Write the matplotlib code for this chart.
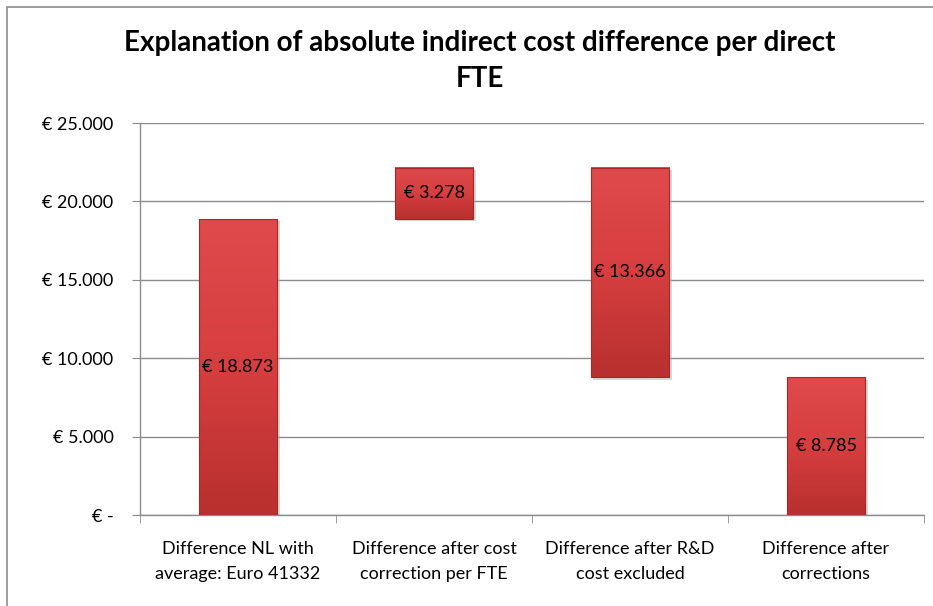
import numpy as np
import matplotlib.pyplot as plt
from matplotlib.patches import Rectangle
from matplotlib.colors import LinearSegmentedColormap

# ---------------------- Data

categories = ['Difference NL with\naverage: Euro 41332',
              'Difference after cost\ncorrection per FTE',
              'Difference after R&D\ncost excluded',
              'Difference after\ncorrections']
bottoms = [0, 18873, 8785, 0]
heights = [18873, 3278, 13366, 8785]
bar_labels = ['€ 18.873', '€ 3.278', '€ 13.366', '€ 8.785']
yticks = [0, 5000, 10000, 15000, 20000, 25000]
ytick_labels = ['€ -', '€ 5.000', '€ 10.000', '€ 15.000', '€ 20.000', '€ 25.000']

# ---------------------- Plot

plt.rcParams['font.family'] = ['Lato', 'DejaVu Sans']
fs = 13

fig = plt.figure(figsize=(9.33, 6.06), dpi=100)
fig.patch.set_facecolor('white')
fig.patches.append(Rectangle((7/933, -0.1), 1.2, 1 - 7/606 + 0.1,
                             transform=fig.transFigure, fill=False,
                             edgecolor='#8c8c8c', linewidth=1.2))

ax = fig.add_axes([140/933, 1 - 515/606, 784/933, 392/606])

# light at top, darker at the bottom
redMap = LinearSegmentedColormap.from_list('red', ['#e04a4c', '#d63e3f', '#b8302f'])
grad = np.linspace(0, 1, 100).reshape(-1, 1)
width = 0.4
x = np.arange(len(categories))
for i in range(len(categories)):
    x0 = x[i] - width/2
    y0 = bottoms[i]
    y1 = bottoms[i] + heights[i]
    # shadow
    ax.add_patch(Rectangle((x0 + 0.012, y0 - 150), width, heights[i],
                           facecolor='#b0b0b0', edgecolor='none', alpha=0.5, zorder=2))
    ax.imshow(grad, cmap=redMap, aspect='auto', origin='upper',
              extent=(x0, x0 + width, y0, y1), zorder=3)
    ax.add_patch(Rectangle((x0, y0), width, heights[i], fill=False,
                           edgecolor='#a8282a', linewidth=0.8, zorder=4))
    ax.text(x[i], y0 + heights[i]/2, bar_labels[i], ha='center', va='center',
            fontsize=fs, color='black', zorder=5)

ax.set_xlim(-0.5, len(categories) - 0.5)
ax.set_ylim(0, 25000)
ax.set_yticks(yticks)
ax.set_yticklabels(ytick_labels, fontsize=fs)
ax.set_xticks(x)
ax.set_xticklabels(categories, fontsize=fs, linespacing=1.7)
ax.set_xticks(np.arange(len(categories) + 1) - 0.5, minor=True)
ax.tick_params(axis='x', which='major', length=0, pad=19)
ax.tick_params(axis='x', which='minor', length=6, color='#8c8c8c')
ax.tick_params(axis='y', length=6, color='#8c8c8c', pad=13)
ax.grid(axis='y', color='#8c8c8c', linewidth=1, zorder=0)
ax.set_axisbelow(True)
for s in ['top', 'right']:
    ax.spines[s].set_visible(False)
for s in ['left', 'bottom']:
    ax.spines[s].set_color('#8c8c8c')
    ax.spines[s].set_linewidth(1)

fig.text(480/933, 1 - 43/606, 'Explanation of absolute indirect cost difference per direct',
         ha='center', va='center', fontsize=20, fontweight='bold')
fig.text(480/933, 1 - 79/606, 'FTE', ha='center', va='center',
         fontsize=20, fontweight='bold')

plt.savefig('out.png', dpi=100)
